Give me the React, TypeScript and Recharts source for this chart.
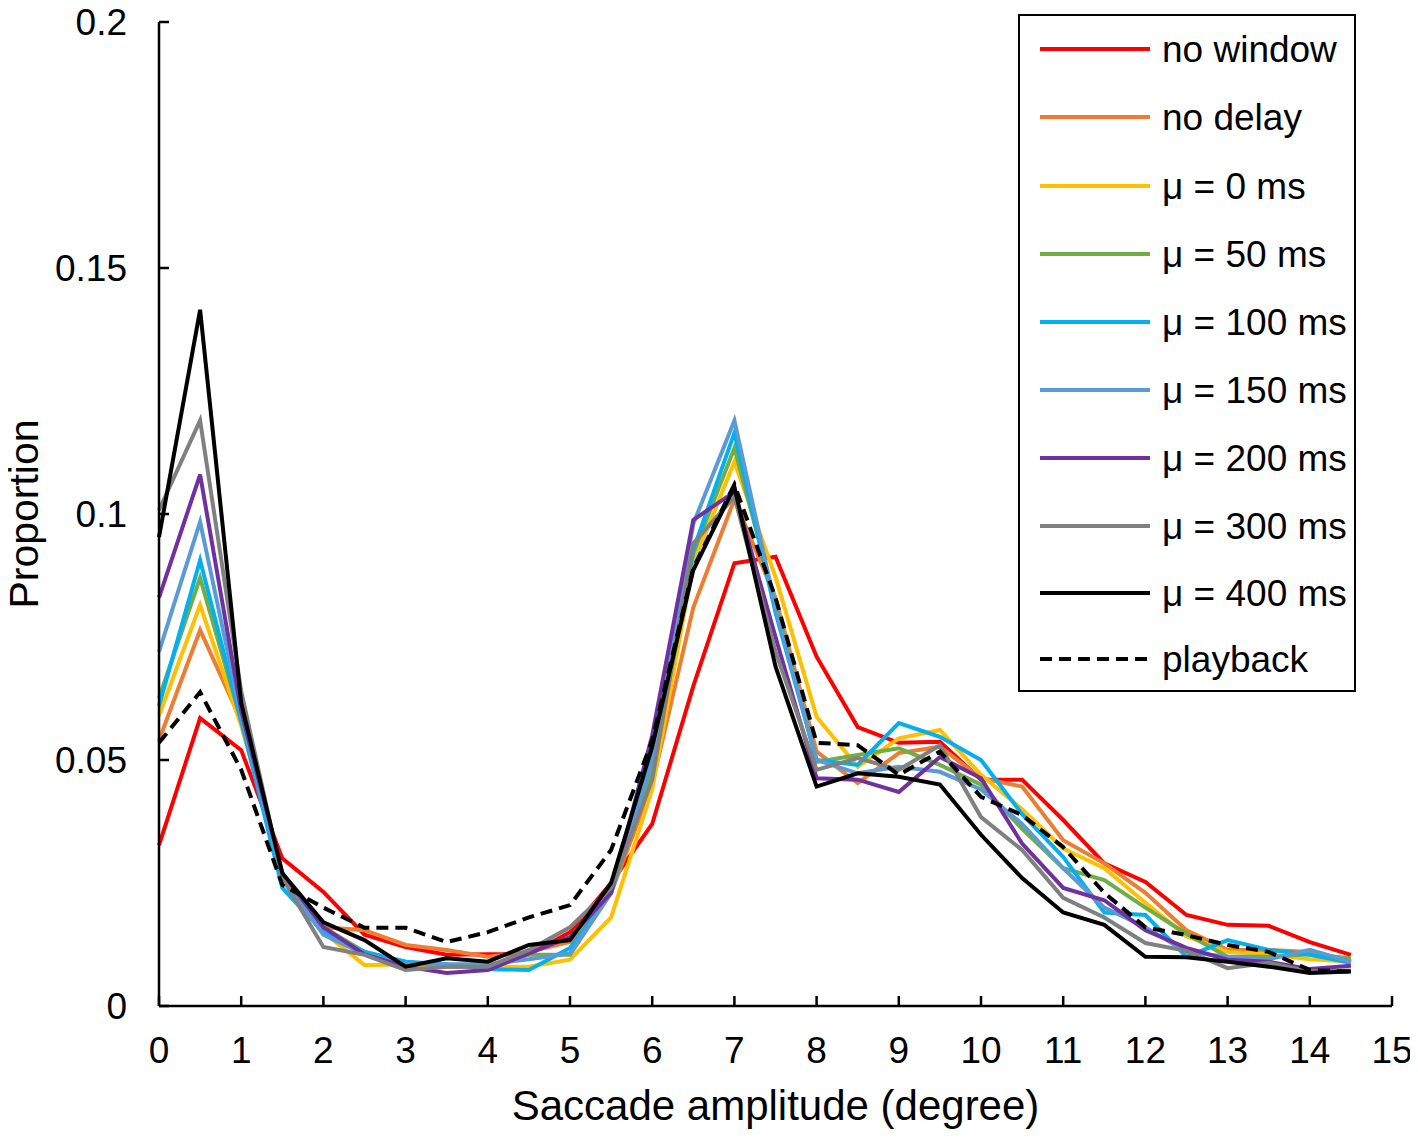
import React from 'react';
import { LineChart, Line, XAxis, YAxis, Legend, Label } from 'recharts';

// saccade amplitude bins (degree)
const amplitudes = [0, 0.5, 1, 1.5, 2, 2.5, 3, 3.5, 4, 4.5, 5, 5.5, 6, 6.5, 7, 7.5, 8, 8.5, 9, 9.5, 10, 10.5, 11, 11.5, 12, 12.5, 13, 13.5, 14, 14.5];

const noWindow = [0.0327, 0.0585, 0.052, 0.030, 0.0232, 0.0145, 0.012, 0.0104, 0.0105, 0.0105, 0.015, 0.025, 0.037, 0.065, 0.090, 0.0913, 0.071, 0.0567, 0.0535, 0.0537, 0.046, 0.046, 0.0378, 0.029, 0.0252, 0.0185, 0.0165, 0.0163, 0.013, 0.0104];
const noDelay = [0.054, 0.0764, 0.058, 0.027, 0.016, 0.0154, 0.0124, 0.0114, 0.010, 0.011, 0.013, 0.023, 0.045, 0.081, 0.103, 0.083, 0.0517, 0.0453, 0.0514, 0.0527, 0.0463, 0.0446, 0.0337, 0.029, 0.023, 0.0154, 0.0114, 0.0114, 0.011, 0.009];
const mu0 = [0.059, 0.0815, 0.057, 0.027, 0.015, 0.0083, 0.0085, 0.008, 0.008, 0.008, 0.0094, 0.018, 0.044, 0.090, 0.1106, 0.0872, 0.0588, 0.0486, 0.0544, 0.0561, 0.047, 0.040, 0.032, 0.028, 0.021, 0.0142, 0.011, 0.0105, 0.0095, 0.009];
const mu50 = [0.0626, 0.087, 0.058, 0.026, 0.016, 0.011, 0.009, 0.008, 0.008, 0.0104, 0.0104, 0.023, 0.048, 0.092, 0.1134, 0.082, 0.0496, 0.051, 0.0524, 0.049, 0.045, 0.036, 0.028, 0.0256, 0.020, 0.0147, 0.010, 0.010, 0.0105, 0.0097];
const mu100 = [0.061, 0.0906, 0.058, 0.024, 0.015, 0.011, 0.009, 0.0085, 0.0075, 0.0073, 0.0118, 0.023, 0.050, 0.0927, 0.1165, 0.080, 0.050, 0.049, 0.0575, 0.0547, 0.050, 0.039, 0.0303, 0.019, 0.0185, 0.010, 0.0134, 0.0114, 0.0104, 0.0088];
const mu150 = [0.072, 0.0984, 0.059, 0.026, 0.0145, 0.0105, 0.0085, 0.0085, 0.0085, 0.0095, 0.0107, 0.023, 0.050, 0.098, 0.119, 0.081, 0.050, 0.0473, 0.0486, 0.0476, 0.044, 0.037, 0.028, 0.020, 0.016, 0.011, 0.010, 0.0095, 0.0114, 0.009];
const mu200 = [0.083, 0.108, 0.060, 0.027, 0.016, 0.0105, 0.008, 0.0067, 0.0073, 0.0107, 0.014, 0.023, 0.055, 0.0988, 0.1045, 0.075, 0.0463, 0.046, 0.0435, 0.0506, 0.0463, 0.033, 0.024, 0.0215, 0.0154, 0.0118, 0.0094, 0.009, 0.0075, 0.0082];
const mu300 = [0.1008, 0.119, 0.064, 0.026, 0.012, 0.0104, 0.0073, 0.008, 0.008, 0.0114, 0.016, 0.024, 0.046, 0.094, 0.1035, 0.072, 0.048, 0.0504, 0.048, 0.053, 0.0384, 0.0317, 0.022, 0.018, 0.0128, 0.0112, 0.0077, 0.0088, 0.007, 0.0072];
const mu400 = [0.0953, 0.1415, 0.0616, 0.027, 0.017, 0.0134, 0.008, 0.0097, 0.009, 0.0124, 0.0134, 0.025, 0.0527, 0.0886, 0.1055, 0.069, 0.0446, 0.0473, 0.0466, 0.045, 0.0348, 0.026, 0.019, 0.0165, 0.010, 0.0099, 0.009, 0.008, 0.0067, 0.007];
const playback = [0.0535, 0.0638, 0.048, 0.0246, 0.020, 0.0159, 0.0159, 0.013, 0.015, 0.018, 0.0205, 0.0317, 0.054, 0.089, 0.106, 0.083, 0.0535, 0.053, 0.047, 0.0517, 0.0425, 0.0388, 0.0323, 0.023, 0.016, 0.0144, 0.0124, 0.011, 0.0073, 0.007];

const xTicks = [0, 1, 2, 3, 4, 5, 6, 7, 8, 9, 10, 11, 12, 13, 14, 15];
const yTicks = [0, 0.05, 0.1, 0.15, 0.2];

const series = [
  { key: 'noWindow', name: 'no window', values: noWindow, color: '#FF0000', dash: undefined },
  { key: 'noDelay', name: 'no delay', values: noDelay, color: '#ED7D31', dash: undefined },
  { key: 'mu0', name: 'μ = 0 ms', values: mu0, color: '#FFC000', dash: undefined },
  { key: 'mu50', name: 'μ = 50 ms', values: mu50, color: '#70AD47', dash: undefined },
  { key: 'mu100', name: 'μ = 100 ms', values: mu100, color: '#00B0F0', dash: undefined },
  { key: 'mu150', name: 'μ = 150 ms', values: mu150, color: '#5B9BD5', dash: undefined },
  { key: 'mu200', name: 'μ = 200 ms', values: mu200, color: '#7030A0', dash: undefined },
  { key: 'mu300', name: 'μ = 300 ms', values: mu300, color: '#808080', dash: undefined },
  { key: 'mu400', name: 'μ = 400 ms', values: mu400, color: '#000000', dash: undefined },
  { key: 'playback', name: 'playback', values: playback, color: '#000000', dash: '12 7' },
];

const data = amplitudes.map((a, i) => {
  const row: Record<string, number> = { amp: a };
  series.forEach((s) => { row[s.key] = s.values[i]; });
  return row;
});

const FONT = '"Liberation Sans", Arial, sans-serif';

const XTick = (props: any) => {
  const { x, y, payload } = props;
  return (
    <g>
      <line x1={x} x2={x} y1={y} y2={y - 10} stroke="#000" strokeWidth={2.5} />
      <text x={x} y={y + 57} textAnchor="middle" fontSize={37} fontFamily={FONT} fill="#000">
        {payload.value}
      </text>
    </g>
  );
};

const YTick = (props: any) => {
  const { x, y, payload } = props;
  return (
    <g>
      <line x1={x} x2={x + 10} y1={y} y2={y} stroke="#000" strokeWidth={2.5} />
      <text x={x - 32} y={y + 13} textAnchor="end" fontSize={37} fontFamily={FONT} fill="#000">
        {String(payload.value)}
      </text>
    </g>
  );
};

const renderLegend = () => {
  const rows = [35, 103, 172, 240, 308, 376, 444, 512, 579, 645];
  return (
    <svg width={338} height={678} style={{ display: 'block' }}>
      <rect x={1} y={1} width={336} height={676} fill="#fff" stroke="#000" strokeWidth={2} />
      {series.map((s, i) => (
        <g key={s.key}>
          <line x1={22} x2={132} y1={rows[i]} y2={rows[i]} stroke={s.color} strokeWidth={4} strokeDasharray={s.dash} />
          <text x={144} y={rows[i] + 13} fontSize={37} fontFamily={FONT} fill="#000">
            {s.name}
          </text>
        </g>
      ))}
    </svg>
  );
};

export default function App() {
  // chart placed at the page origin so that its coordinates match the picture
  return (
    <div style={{ margin: -8 }}>
      <LineChart width={1418} height={1139} data={data} margin={{ top: 22, right: 26, bottom: 0, left: 0 }}>
        <XAxis
          dataKey="amp"
          type="number"
          domain={[0, 15]}
          ticks={xTicks}
          interval={0}
          height={133}
          tickSize={0}
          tickMargin={0}
          tickLine={false}
          tick={<XTick />}
          axisLine={{ stroke: '#000', strokeWidth: 2.5 }}
        >
          <Label
            content={(p: any) => {
              const vb = p.viewBox;
              return (
                <text x={vb.x + vb.width / 2} y={vb.y + 114} textAnchor="middle" fontSize={42} fontFamily={FONT} fill="#000">
                  Saccade amplitude (degree)
                </text>
              );
            }}
          />
        </XAxis>
        <YAxis
          type="number"
          domain={[0, 0.2]}
          ticks={yTicks}
          interval={0}
          width={159}
          tickSize={0}
          tickMargin={0}
          tickLine={false}
          tick={<YTick />}
          axisLine={{ stroke: '#000', strokeWidth: 2.5 }}
        >
          <Label
            content={(p: any) => {
              const vb = p.viewBox;
              const cy = vb.y + vb.height / 2;
              return (
                <text x={38} y={cy} textAnchor="middle" fontSize={41} fontFamily={FONT} fill="#000" transform={`rotate(-90 38 ${cy})`}>
                  Proportion
                </text>
              );
            }}
          />
        </YAxis>
        <Legend
          layout="vertical"
          align="center"
          verticalAlign="middle"
          content={renderLegend}
          wrapperStyle={{ left: 1018, top: 14, width: 338, height: 678 }}
        />
        {series.map((s) => (
          <Line
            key={s.key}
            dataKey={s.key}
            name={s.name}
            type="linear"
            stroke={s.color}
            strokeWidth={4}
            strokeDasharray={s.dash}
            dot={false}
            activeDot={false}
            isAnimationActive={false}
          />
        ))}
      </LineChart>
    </div>
  );
}
